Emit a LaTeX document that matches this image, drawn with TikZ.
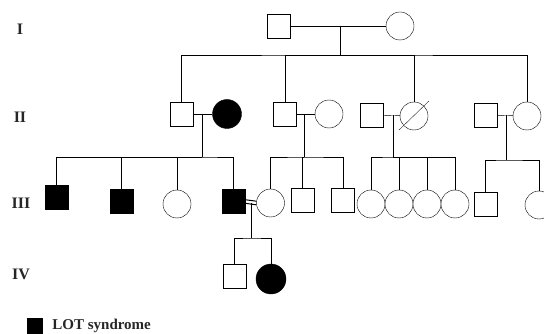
\documentclass[tikz,border=0pt]{standalone}
\usepackage{fontspec}
\setmainfont{Liberation Serif}
\usetikzlibrary{arrows}
\pgfdeclarelayer{edgelayer}
\pgfdeclarelayer{nodelayer}
\pgfsetlayers{edgelayer,nodelayer,main}
\tikzset{
	male/.style={draw, rectangle, minimum width=23pt, minimum height=24pt, inner sep=0pt, fill=white},
	female/.style={draw, circle, minimum size=28pt, inner sep=0pt, fill=white},
	affected/.style={fill=black},
	gen/.style={font=\fontsize{16}{16}\selectfont\bfseries, inner sep=0pt},
}
\begin{document}
\begin{tikzpicture}[x=1pt, y=-1pt, line width=1.2pt, color=black!85]
	\useasboundingbox (0,0) rectangle (544,334);
	\begin{pgfonlayer}{nodelayer}
		\node [gen] (g1) at (20, 29) {I};
		\node [gen] (g2) at (20, 117) {II};
		\node [gen] (g3) at (21, 203) {III};
		\node [gen] (g4) at (21, 274) {IV};
		% generation I
		\node [male] (I1) at (278.5, 26) {};
		\node [female] (I2) at (400, 26) {};
		% generation II
		\node [male] (II1) at (181.5, 114) {};
		\node [female, affected, minimum height=29pt] (II2) at (227, 114) {};
		\node [male] (II3) at (285, 114) {};
		\node [female] (II4) at (329, 114) {};
		\node [male] (II5) at (372, 115) {};
		\node [female] (II6) at (414, 116) {};
		\node [male] (II7) at (485.5, 115) {};
		\node [female] (II8) at (527, 116) {};
		% generation III
		\node [male, affected] (III1) at (56.5, 197) {};
		\node [male, affected] (III2) at (121.5, 201) {};
		\node [female] (III3) at (177, 204) {};
		\node [male, affected] (III4) at (233.5, 201.5) {};
		\node [female] (III5) at (270.5, 203) {};
		\node [male] (III6) at (302.5, 200.5) {};
		\node [male] (III7) at (343, 200.5) {};
		\node [female] (III8) at (371, 204) {};
		\node [female] (III9) at (399, 204) {};
		\node [female] (III10) at (427, 204) {};
		\node [female] (III11) at (455, 204) {};
		\node [male] (III12) at (485.5, 204.5) {};
		\node [female] (III13) at (539, 205) {};
		% generation IV
		\node [male] (IV1) at (234.5, 276) {};
		\node [female, affected, minimum height=30pt] (IV2) at (271, 279) {};
		% key
		\node [male, affected, minimum width=15pt, minimum height=15pt] (key) at (34.5, 325.5) {};
		\node [anchor=west, inner sep=0pt, xshift=10pt, font=\fontsize{15}{15}\selectfont\bfseries] (keytext) at (key.east) {LOT syndrome};
	\end{pgfonlayer}
	\begin{pgfonlayer}{edgelayer}
		\coordinate (m1) at (340, 26);
		\coordinate (s1) at (340, 55);
		\coordinate (m2) at (202, 114);
		\coordinate (s2) at (202, 157);
		\coordinate (m3) at (304, 114);
		\coordinate (s3) at (304, 157);
		\coordinate (m5) at (393, 115);
		\coordinate (s5) at (393, 157);
		\coordinate (m7) at (506, 115);
		\coordinate (s7) at (506, 160);
		\coordinate (m9) at (251, 203.5);
		\coordinate (s9) at (251, 238);
		\draw (I1) to (I2);
		\draw (m1) to (s1);
		\draw (II1) |- (s1) -| (II8);
		\draw (II3) |- (s1);
		\draw (II6) |- (s1);
		\draw (II1) to (II2);
		\draw (m2) to (s2);
		\draw (III1) |- (s2) -| (III4);
		\draw (III2) |- (s2);
		\draw (III3) |- (s2);
		\draw (II3) to (II4);
		\draw (m3) to (s3);
		\draw (III5) |- (s3) -| (III7);
		\draw (III6) |- (s3);
		\draw (II5) to (II6);
		\draw (m5) to (s5);
		\draw (III8) |- (s5) -| (III11);
		\draw (III9) |- (s5);
		\draw (III10) |- (s5);
		\draw (II7) to (II8);
		\draw (m7) to (s7);
		\draw (III12) |- (s7) -| (III13);
		\draw [line width=1pt, black] ([yshift=1.8pt]III4.east) to ([yshift=1.8pt]III5.west);
		\draw [line width=1pt, black] ([yshift=-1.8pt]III4.east) to ([yshift=-1.8pt]III5.west);
		\draw (m9) to (s9);
		\draw (IV1) |- (s9) -| (IV2);
	\end{pgfonlayer}
	\draw ([shift={(-15, 14)}]II6.center) to ([shift={(15, -15)}]II6.center);
\end{tikzpicture}
\end{document}
